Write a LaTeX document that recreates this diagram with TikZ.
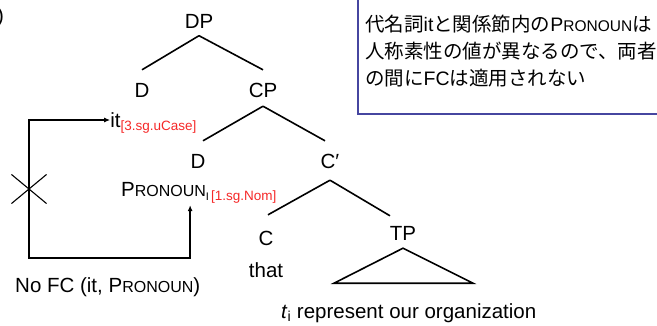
\documentclass[tikz,border=0pt]{standalone}
\usepackage{fontspec}
\setmainfont{Liberation Sans}
\newfontfamily\jp{Noto Sans CJK JP}
\usepackage{xcolor}
\usetikzlibrary{arrows.meta,positioning,shapes.misc}
\definecolor{featred}{RGB}{245,40,40}
\definecolor{notebord}{RGB}{70,70,160}
% fake small caps for the pronoun label
\newcommand\pron[1][16]{P{\fontsize{#1}{#1}\selectfont RONOUN}}

\begin{document}
\begin{tikzpicture}[
  x=1pt, y=-1pt,
  cat/.style={inner sep=0pt, text height=14pt, text depth=0pt, font=\fontsize{20.5}{24}\selectfont},
  feat/.style={inner sep=0pt, text=featred, font=\fontsize{13.5}{15}\selectfont},
  br/.style={line width=1.6pt},
  a/.style={{Latex[length=6pt,width=5pt]}-{Latex[length=6pt,width=5pt]}, line width=1.3pt},
  jpl/.style={inner sep=0pt, anchor=base west, font=\jp\fontsize{19.5}{27}\selectfont}
]
  \useasboundingbox (0,0) rectangle (657,325);

  % note box
  \draw[notebord, line width=1.5pt, fill=white] (358,-5) rectangle (665,114);
  \node[jpl] (n1) at (365,31.5) {代名詞{\rmfamily it}と関係節内の{\rmfamily\pron[15.5]}は};
  \node[jpl] (n2) at (365,58.5) {人称素性の値が異なるので、両者};
  \node[jpl] (n3) at (365,85.5) {の間に{\rmfamily FC}は適用されない};

  \node[cat, anchor=base east] (lbl) at (4.2,22) {)};

  % tree
  \node[cat] (dp) at (199,21.5) {DP};
  \node[cat] (d1) at (142,90) {D};
  \node[cat] (cp) at (263,90) {CP};
  \node[cat] (d2) at (198,161) {D};
  \node[cat] (cbar) at (330,161) {C\char"2032};
  \node[cat] (c) at (266,238) {C};
  \node[cat, below=18pt of c] (that) {that};
  \node[cat] (tp) at (403,233) {TP};
  \node[cat, anchor=base west] (yield) at (281,318) {\textit{t}\textsubscript{i} represent our organization};

  \draw[br] ([yshift=-7pt]dp.south) -- ([yshift=13pt]d1.north);
  \draw[br] ([yshift=-7pt]dp.south) -- ([yshift=13pt]cp.north);
  \draw[br] ([yshift=-9pt]cp.south) -- ([xshift=5pt,yshift=13pt]d2.north);
  \draw[br] ([yshift=-9pt]cp.south) -- ([xshift=-5pt,yshift=13pt]cbar.north);
  \draw[br] ([yshift=-12pt]cbar.south) -- ([xshift=2pt,yshift=16pt]c.north);
  \draw[br] ([yshift=-12pt]cbar.south) -- ([xshift=-13pt,yshift=10pt]tp.north);
  \draw[br] ([yshift=-8pt]tp.south) -- ++(-69,35) -- ++(139,0) -- cycle;

  % it and the pronoun
  \node[cat] (it) at (115.5,120) {it};
  \node[feat, anchor=base west] (itf) at (120.5,130.5) {[3.sg.uCase]};
  \node[cat, anchor=base west] (pro) at (121,196) {\pron\raisebox{-4pt}{\fontsize{11}{11}\selectfont I}};
  \node[feat, anchor=base west] (prof) at (211,200) {[1.sg.Nom]};

  % blocked FC
  \coordinate (turn) at (29,258);
  \draw[a] (it.west) -| (turn) -| ([xshift=25pt,yshift=-9pt]pro.south);
  \node[draw, cross out, line width=1.1pt, inner sep=0pt, minimum width=34pt, minimum height=28pt] (block) at (29,189) {};
  \node[cat, anchor=base west] (nofc) at (15,292) {No FC (it, \pron)};
\end{tikzpicture}
\end{document}
